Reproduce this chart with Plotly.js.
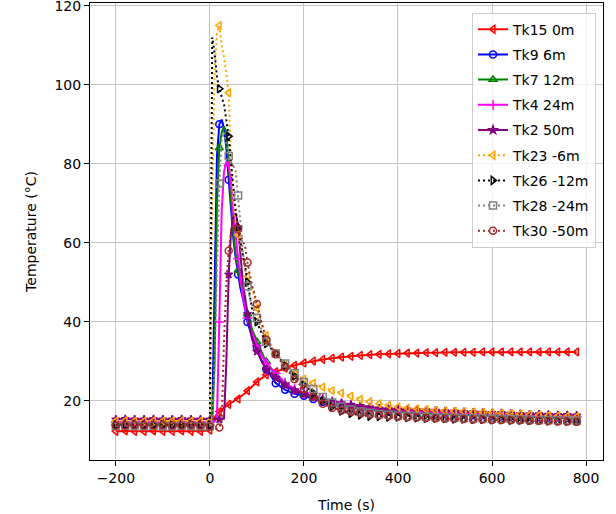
<!DOCTYPE html>
<html>
<head>
<meta charset="utf-8">
<script src="https://cdn.plot.ly/plotly-3.0.1.min.js"></script>
<style>html,body{margin:0;padding:0;background:#fff;}#chart{width:616px;height:514px;}</style>
</head>
<body>
<div id="chart"></div>
<script>
const time = [-200,-180,-160,-140,-120,-100,-80,-60,-40,-20,
  0,5,10,15,20,25,30,35,40,45,50,55,60,65,70,75,80,85,90,95,100,105,110,115,120,
  140,160,180,200,220,240,260,280,300,320,340,360,380,
  400,420,440,460,480,500,520,540,560,580,600,620,640,660,680,700,720,740,760,780];

const tk15 = [12.3,12.4,12.3,12.3,12.4,12.3,12.3,12.4,12.3,12.3,
  12.6,14.5,15.8,16.7,17.3,17.8,18.3,18.7,19.1,19.5,19.8,20.1,20.5,21.0,21.5,22.0,22.6,23.2,23.8,24.3,24.8,25.3,25.8,26.2,26.6,
  27.4,28.3,29.0,29.6,30.1,30.5,30.8,31.1,31.3,31.5,31.7,31.8,31.9,
  32.0,32.1,32.1,32.2,32.2,32.3,32.3,32.3,32.3,32.4,32.4,32.4,32.4,32.4,32.4,32.4,32.4,32.4,32.4,32.4];
const tk9 = [14.0,14.1,14.0,14.0,14.1,14.0,14.0,14.1,14.0,14.0,
  14.0,16,45,82,90,91.2,89,84,76,68,61,56,52,48.5,46,43,40,38,36,34.8,33.5,31.5,30,29,28,
  24.5,22.8,21.8,21.3,20.5,19.8,19.2,18.7,18.3,18.0,17.7,17.5,17.3,
  17.2,17.1,17.0,16.9,16.8,16.7,16.6,16.5,16.4,16.4,16.3,16.2,16.1,16.0,16.0,15.9,15.8,15.8,15.7,15.6];
const tk7 = [14.2,14.2,14.3,14.2,14.2,14.3,14.2,14.2,14.3,14.2,
  14.2,14.5,30,70,84,88,89.5,88,80,70,62,57,53,50,47,44.5,42,40,38,36.5,35,33.5,32,31,30,
  26.5,24.2,22.7,21.6,20.8,20.1,19.5,19.0,18.6,18.3,18.0,17.7,17.5,
  17.4,17.3,17.2,17.1,17.0,16.9,16.8,16.7,16.6,16.5,16.4,16.4,16.3,16.2,16.1,16.1,16.0,15.9,15.9,15.8];
const tk4 = [14.6,14.6,14.7,14.6,14.6,14.7,14.6,14.6,14.7,14.6,
  14.6,14.6,14.8,16,40,68,78,80.5,79.5,75,67,61,56,51,46.5,43.5,41,39,37,35.5,34,32.5,31.5,30.5,29.5,
  27.0,24.6,23.0,22.0,21.2,20.5,19.9,19.4,19.0,18.6,18.3,18.0,17.8,
  17.6,17.5,17.4,17.3,17.2,17.1,17.0,16.9,16.8,16.7,16.7,16.6,16.5,16.4,16.4,16.3,16.2,16.2,16.1,16.0];
const tk2 = [15.3,15.4,15.3,15.3,15.4,15.3,15.3,15.4,15.3,15.3,
  15.3,15.3,15.3,15.3,15.3,15.4,15.5,30,52,63,66.5,67.5,64,57,50,46,42,38.5,35.5,34,32.5,31,30,29,28,
  25.8,24.0,22.6,21.7,21.0,20.3,19.8,19.4,19.0,18.7,18.4,18.1,17.9,
  17.9,17.8,17.7,17.6,17.5,17.4,17.3,17.2,17.1,17.0,16.9,16.9,16.8,16.7,16.6,16.6,16.5,16.4,16.4,16.3];
const tk23 = [14.9,15.0,14.9,14.9,15.0,14.9,14.9,15.0,14.9,14.9,
  14.9,70,104,113,115,110,107,103,98,80,70,65,62,59,56,53.5,51.5,50,48.5,46,43.5,41,39.5,38,36.5,
  32.0,29.0,27.0,25.5,24.5,23.5,22.6,22.0,21.2,20.4,19.8,19.3,18.9,
  18.5,18.2,18.0,17.8,17.6,17.5,17.4,17.3,17.2,17.1,17.0,16.9,16.8,16.7,16.5,16.4,16.3,16.2,16.1,16.0];
const tk26 = [13.9,13.9,14.0,13.9,13.9,14.0,13.9,13.9,14.0,13.9,
  13.9,112,108,102,99,97,95,91,87,80,73,68,64,60,57,54,50,46,43,41,40,38.5,37,35.5,34.5,
  32.0,29.0,26.3,24.0,22.0,20.0,18.5,17.4,16.8,16.4,16.1,16.0,15.9,
  15.9,15.8,15.7,15.6,15.6,15.5,15.4,15.4,15.3,15.3,15.2,15.2,15.1,15.1,15.0,15.0,14.9,14.9,14.8,14.8];
const tk28 = [13.6,13.7,13.6,13.6,13.7,13.6,13.6,13.7,13.6,13.6,
  13.6,14,30,53,75,86,88,85,82,80.5,79.5,78,72,65,58,53,49,46,44,42.5,41,39.5,38,36.5,35,
  32.0,29.5,27.0,24.8,23.0,21.0,19.6,18.6,17.8,17.3,17.0,16.7,16.5,
  16.3,16.2,16.1,16.0,15.9,15.8,15.8,15.7,15.6,15.6,15.5,15.4,15.4,15.3,15.3,15.2,15.2,15.1,15.1,15.0];
const tk30 = [13.8,13.8,13.9,13.8,13.8,13.9,13.8,13.8,13.9,13.8,
  13.5,13.3,13.1,13.0,13.3,15,35,50,58,63,65.5,65,63.5,62,60.5,59,55,52,49,47,44.5,42,39.5,37.5,35.5,
  31.8,28.5,25.5,23.0,21.0,19.3,18.2,17.6,17.2,16.9,16.6,16.4,16.2,
  16.0,15.9,15.8,15.7,15.6,15.5,15.5,15.4,15.3,15.3,15.2,15.2,15.1,15.1,15.0,15.0,14.9,14.8,14.8,14.7];

const seriesNames = ['Tk15 0m','Tk9 6m','Tk7 12m','Tk4 24m','Tk2 50m','Tk23 -6m','Tk26 -12m','Tk28 -24m','Tk30 -50m'];
const seriesValues = [tk15, tk9, tk7, tk4, tk2, tk23, tk26, tk28, tk30];
const seriesColors = ['#ff0000','#0000ff','#008000','#ff00ff','#800080','#ffa500','#000000','#808080','#a52a2a'];
const seriesDash = ['solid','solid','solid','solid','solid','2px,3px','2px,3px','2px,3px','2px,3px'];
const seriesSymbols = ['triangle-left-open','circle-open','triangle-up-open','cross-thin-open','star','triangle-left-open','triangle-right-open','square-open','circle-open'];

const markIdx = [];
time.forEach((t, i) => { if (t % 20 === 0) markIdx.push(i); });

const traces = seriesNames.map((name, k) => ({
  type: 'scatter',
  mode: 'lines+markers',
  x: time,
  y: seriesValues[k],
  name: name,
  legendgroup: 'g' + k,
  line: {color: seriesColors[k], width: 2, dash: seriesDash[k]},
  marker: {
    symbol: seriesSymbols[k],
    size: seriesSymbols[k] === 'star' ? 6 : 7,
    color: seriesColors[k],
    line: {color: seriesColors[k], width: 1.5}
  },
  selectedpoints: markIdx,
  selected: {marker: {opacity: 1}},
  unselected: {marker: {opacity: 0}}
}));

const layout = {
  width: 616, height: 514,
  margin: {l: 90, r: 13, t: 3, b: 54},
  paper_bgcolor: '#ffffff', plot_bgcolor: '#ffffff',
  font: {family: 'DejaVu Sans', size: 14, color: '#000000'},
  xaxis: {
    range: [-255, 836], tick0: 0, dtick: 200,
    showgrid: true, gridcolor: '#c4c4c4', gridwidth: 1,
    showline: true, mirror: true, linecolor: '#000000', linewidth: 1,
    ticks: 'outside', ticklen: 5, tickcolor: '#000000', zeroline: false,
    title: {text: 'Time (s)', font: {size: 14}, standoff: 15}
  },
  yaxis: {
    range: [5.05, 120.7], tick0: 0, dtick: 20,
    showgrid: true, gridcolor: '#c4c4c4', gridwidth: 1,
    showline: true, mirror: true, linecolor: '#000000', linewidth: 1,
    ticks: 'outside', ticklen: 5, tickcolor: '#000000', zeroline: false,
    ticklabeloverflow: 'allow',
    title: {text: 'Temperature (°C)', font: {size: 14}, standoff: 14}
  },
  showlegend: true,
  legend: {
    x: 0.9864, xanchor: 'right', y: 0.979, yanchor: 'top',
    bgcolor: 'rgba(255,255,255,0.8)', bordercolor: '#cccccc', borderwidth: 1,
    traceorder: 'grouped', tracegroupgap: 4,
    font: {family: 'DejaVu Sans', size: 14, color: '#000000'}
  }
};

Plotly.newPlot('chart', traces, layout, {staticPlot: true, displayModeBar: false});
</script>
</body>
</html>
